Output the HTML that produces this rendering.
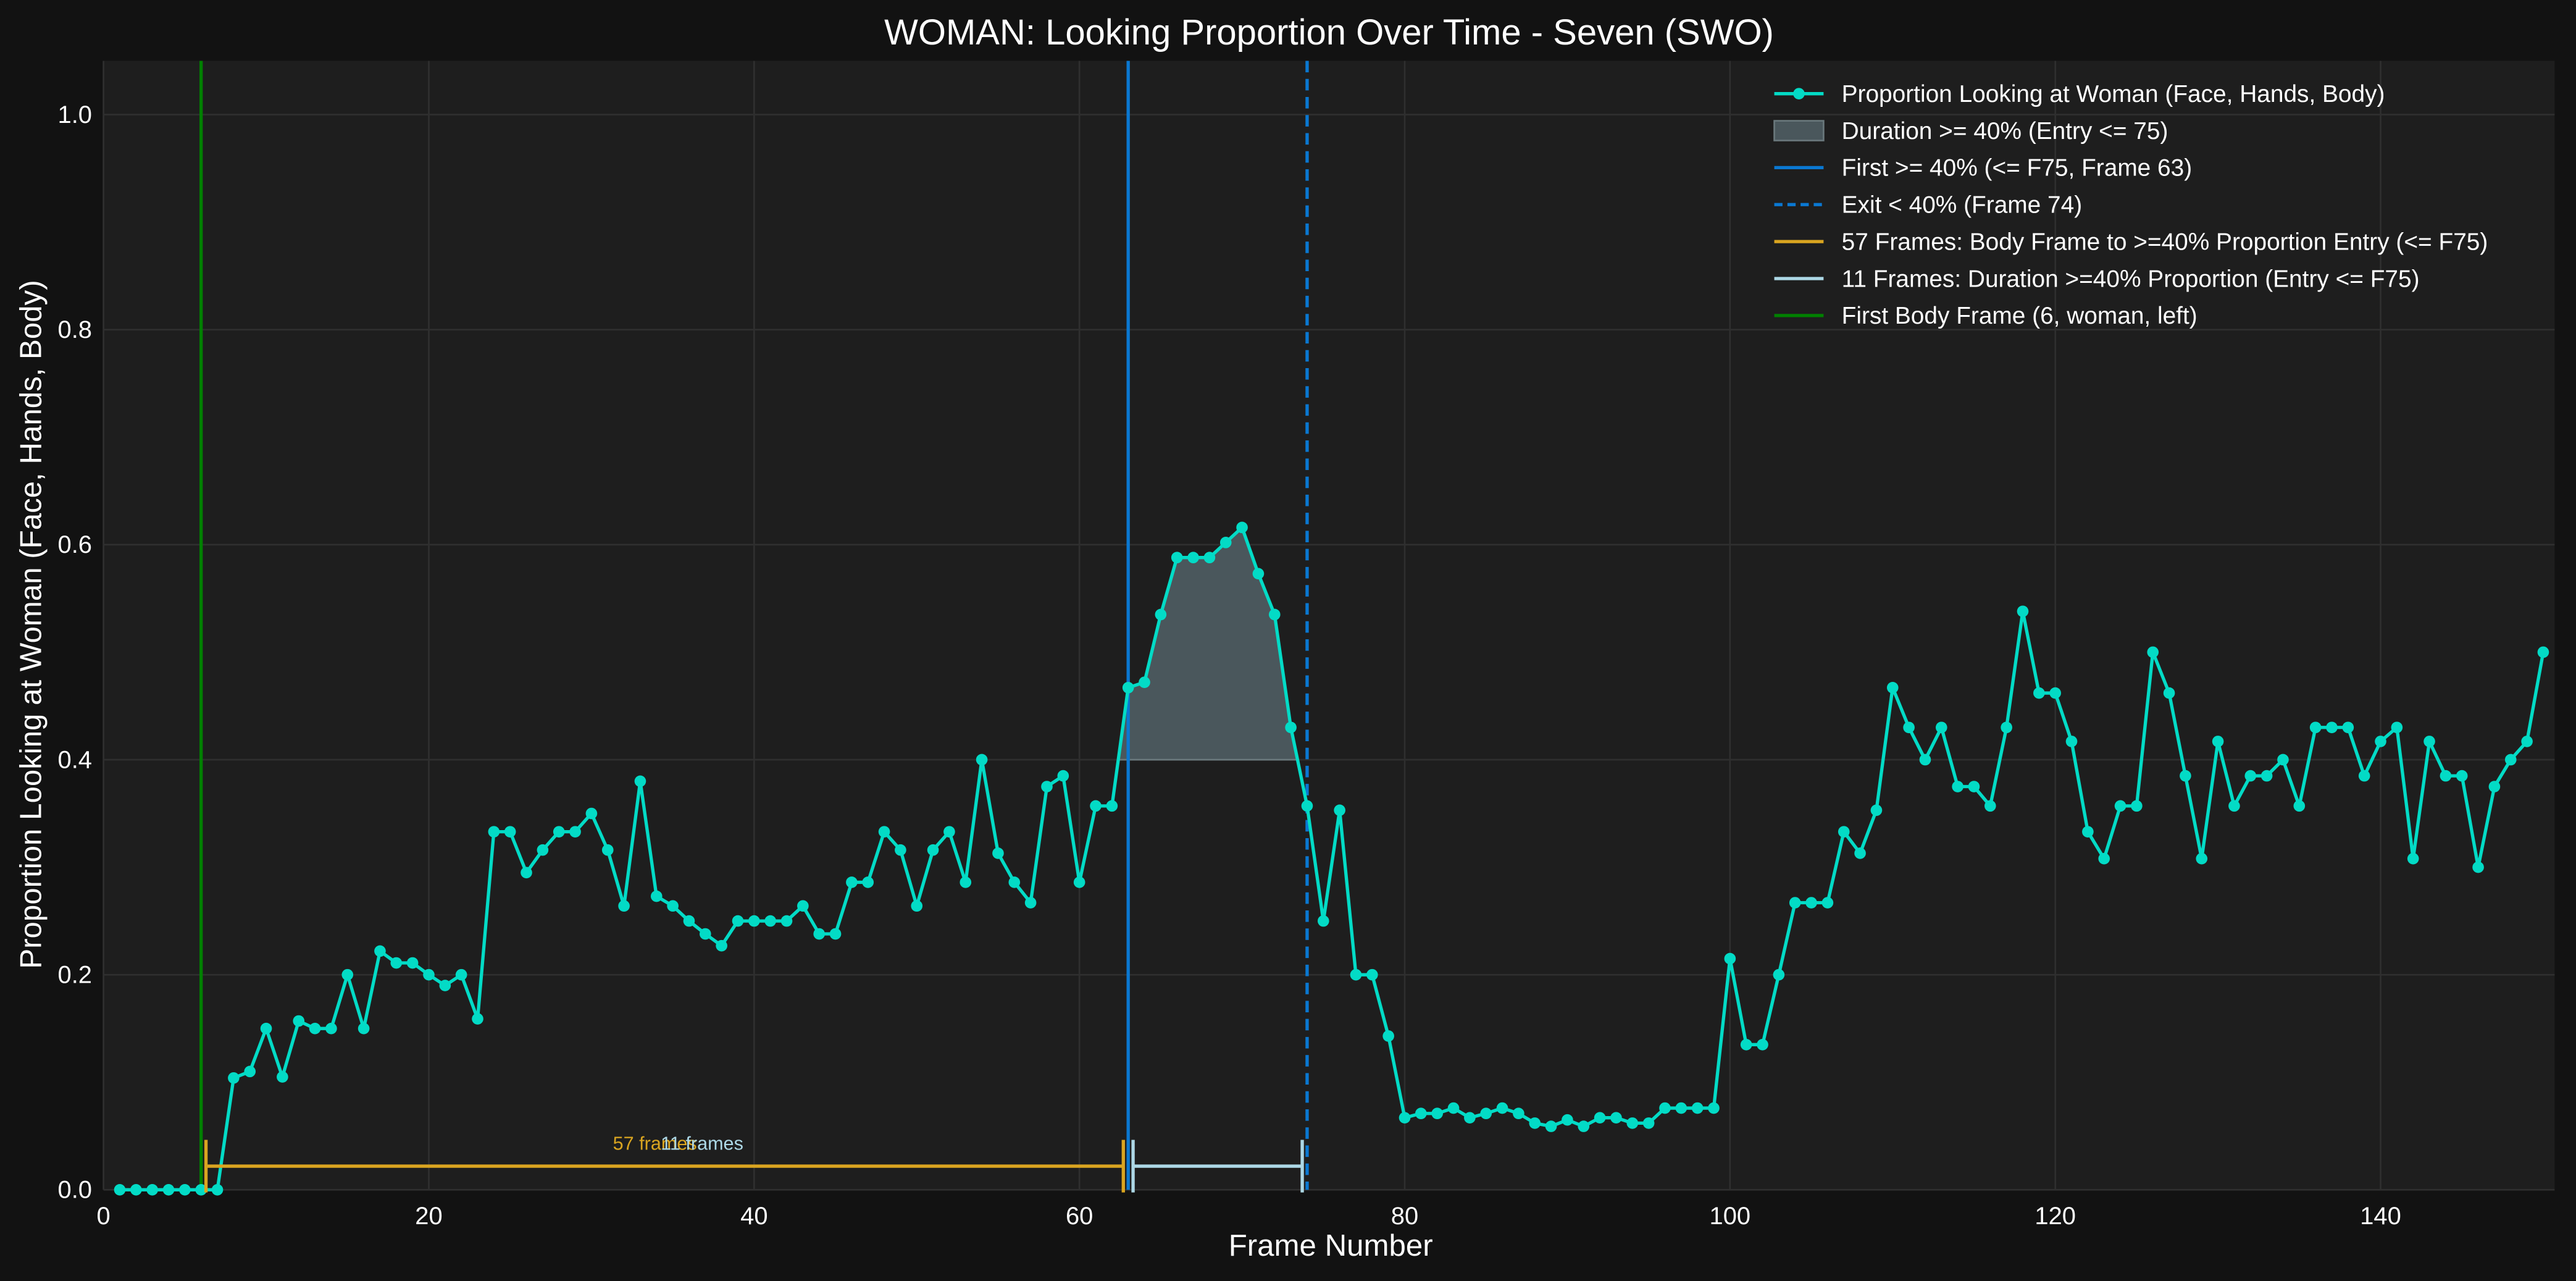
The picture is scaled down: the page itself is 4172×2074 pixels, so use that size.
<!DOCTYPE html>
<html><head><meta charset="utf-8"><style>
html,body{margin:0;padding:0;background:#121212;}
svg{display:block;}
text{font-family:"Liberation Sans",sans-serif;}
</style></head><body>
<svg id="chart" width="4172" height="2074" viewBox="0 0 1568 779.5" xmlns="http://www.w3.org/2000/svg">
<rect x="0" y="0" width="1568" height="779.5" fill="#121212"/>
<rect x="63" y="37" width="1492" height="687" fill="#1e1e1e"/>
<g id="grid"></g>
<g id="fill"></g>
<g id="vlines"></g>
<g id="series"></g>
<g id="annot"></g>
<g id="axes"></g>
<text x="809" y="27" text-anchor="middle" font-size="21.8" fill="#ffffff">WOMAN: Looking Proportion Over Time - Seven (SWO)</text>
<text x="810" y="764" text-anchor="middle" font-size="18.5" fill="#ffffff">Frame Number</text>
<text x="25" y="380" text-anchor="middle" font-size="18.5" fill="#ffffff" transform="rotate(-90 25 380)">Proportion Looking at Woman (Face, Hands, Body)</text>
<g id="legend"></g>
</svg>
<script>
const frames = Array.from({length:150},(_,i)=>i+1);
const values = [0,0,0,0,0,0,0,0.104,0.11,0.15,0.105,0.157,0.15,0.15,0.2,0.15,0.222,0.211,0.211,0.2,
0.19,0.2,0.159,0.333,0.333,0.295,0.316,0.333,0.333,0.35,0.316,0.264,0.38,0.273,0.264,0.25,0.238,0.227,0.25,0.25,
0.25,0.25,0.264,0.238,0.238,0.286,0.286,0.333,0.316,0.264,0.316,0.333,0.286,0.4,0.313,0.286,0.267,0.375,0.385,0.286,
0.357,0.357,0.467,0.472,0.535,0.588,0.588,0.588,0.602,0.616,0.573,0.535,0.43,0.357,0.25,0.353,0.2,0.2,0.143,0.067,
0.071,0.071,0.076,0.067,0.071,0.076,0.071,0.062,0.059,0.065,0.059,0.067,0.067,0.062,0.062,0.076,0.076,0.076,0.076,0.215,
0.135,0.135,0.2,0.267,0.267,0.267,0.333,0.313,0.353,0.467,0.43,0.4,0.43,0.375,0.375,0.357,0.43,0.538,0.462,0.462,
0.417,0.333,0.308,0.357,0.357,0.5,0.462,0.385,0.308,0.417,0.357,0.385,0.385,0.4,0.357,0.43,0.43,0.43,0.385,0.417,
0.43,0.308,0.417,0.385,0.385,0.3,0.375,0.4,0.417,0.5];
const xTicks = [0,20,40,60,80,100,120,140];
const yTicks = [0.0,0.2,0.4,0.6,0.8,1.0];
const threshold = 0.4;
const bodyFrame = 6, entryFrame = 63, exitFrame = 74;
const span1Label = "57 frames", span2Label = "11 frames";
const legendLabels = ["Proportion Looking at Woman (Face, Hands, Body)","Duration >= 40% (Entry <= 75)","First >= 40% (<= F75, Frame 63)","Exit < 40% (Frame 74)","57 Frames: Body Frame to >=40% Proportion Entry (<= F75)","11 Frames: Duration >=40% Proportion (Entry <= F75)","First Body Frame (6, woman, left)"];

const L=63,R=1555,T=37,B=724, XMIN=0,XMAX=150.7,YMIN=0,YMAX=1.05;
const sx=v=>L+(v-XMIN)/(XMAX-XMIN)*(R-L);
const sy=v=>B-(v-YMIN)/(YMAX-YMIN)*(B-T);
const NS="http://www.w3.org/2000/svg";
function mk(tag,attrs,parent){const e=document.createElementNS(NS,tag);for(const k in attrs)e.setAttribute(k,attrs[k]);parent.appendChild(e);return e;}
const grid=document.getElementById('grid'),axes=document.getElementById('axes');
xTicks.forEach(t=>{
 let g=mk('line',{x1:sx(t),x2:sx(t),y1:T,y2:B,stroke:'#2f2f2f','stroke-width':1},grid);
 
 
 let tx=mk('text',{x:sx(t),y:B+21,'text-anchor':'middle','font-size':15,fill:'#ffffff'},axes);
 tx.textContent=t;
 
 
});
yTicks.forEach(t=>{
 let g=mk('line',{x1:L,x2:R,y1:sy(t),y2:sy(t),stroke:'#2f2f2f','stroke-width':1},grid);
 
 
 let tx=mk('text',{x:L-7,y:sy(t)+5,'text-anchor':'end','font-size':15,fill:'#ffffff'},axes);
 tx.textContent=t.toFixed(1);
 
 
});
let pts=[];
for(let i=0;i<frames.length-1;i++){
 const x0=frames[i],x1=frames[i+1],y0=values[i],y1=values[i+1];
 if(x1<entryFrame-1||x0>exitFrame) continue;
 if(y0>=threshold) pts.push([x0,y0]);
 if((y0-threshold)*(y1-threshold)<0){const xc=x0+(threshold-y0)/(y1-y0)*(x1-x0);pts.push([xc,threshold]);}
}
if(pts.length){
 let d='M'+sx(pts[0][0])+','+sy(threshold);
 pts.forEach(p=>d+=' L'+sx(p[0])+','+sy(p[1]));
 d+=' L'+sx(pts[pts.length-1][0])+','+sy(threshold)+'Z';
 let f=mk('path',{d:d,fill:'#4a575c',stroke:'#6a787c','stroke-width':1},document.getElementById('fill'));
 
 
}
const vl=document.getElementById('vlines');
let v1=mk('line',{x1:sx(bodyFrame),x2:sx(bodyFrame),y1:T,y2:B,stroke:'#008000','stroke-width':2},vl);


let v2=mk('line',{x1:sx(entryFrame),x2:sx(entryFrame),y1:T,y2:B,stroke:'#0a78d2','stroke-width':2},vl);


let v3=mk('line',{x1:sx(exitFrame),x2:sx(exitFrame),y1:T,y2:B,stroke:'#0a78d2','stroke-width':2,'stroke-dasharray':'7,4'},vl);


const sg=document.getElementById('series');
let d=frames.map((f,i)=>(i?'L':'M')+sx(f)+','+sy(values[i])).join(' ');
let ln=mk('path',{d:d,fill:'none',stroke:'#03dbc6','stroke-width':2,'stroke-linejoin':'round'},sg);


frames.forEach((f,i)=>{
 let c=mk('circle',{cx:sx(f),cy:sy(values[i]),r:3.5,fill:'#03dbc6'},sg);
 
 
});
const an=document.getElementById('annot');
const ay=sy(0.022);
function span(a,b,col,name){
 let l=mk('line',{x1:sx(a),x2:sx(b),y1:ay,y2:ay,stroke:col,'stroke-width':2},an);
 
 
 [a,b].forEach(x=>{let t=mk('line',{x1:sx(x),x2:sx(x),y1:ay-16,y2:ay+16,stroke:col,'stroke-width':2},an);
 
 });
}
span(bodyFrame+0.3,entryFrame-0.3,'#daa520','span-57-frames');
span(entryFrame+0.3,exitFrame-0.3,'#add8e6','span-11-frames');
let t1=mk('text',{x:sx((bodyFrame+entryFrame)/2-0.6),y:ay-10,'text-anchor':'middle','font-size':11.5,fill:'#daa520'},an);
t1.textContent=span1Label;


let t2=mk('text',{x:sx((bodyFrame+entryFrame)/2+2.3),y:ay-10,'text-anchor':'middle','font-size':11.5,fill:'#add8e6'},an);
t2.textContent=span2Label;


const lg=document.getElementById('legend');
legendLabels.forEach((lab,i)=>{
 const y=57+i*22.5, x0=1080,x1=1110;
 let h;
 if(i===0){h=mk('line',{x1:x0,x2:x1,y1:y,y2:y,stroke:'#03dbc6','stroke-width':2},lg);mk('circle',{cx:(x0+x1)/2,cy:y,r:3.5,fill:'#03dbc6'},lg);}
 else if(i===1){h=mk('rect',{x:x0,y:y-6,width:30,height:12,fill:'#4a575c',stroke:'#6a787c','stroke-width':1},lg);}
 else{const cols=['','','#0a78d2','#0a78d2','#daa520','#add8e6','#008000'];
  h=mk('line',{x1:x0,x2:x1,y1:y,y2:y,stroke:cols[i],'stroke-width':2},lg);
  if(i===3)h.setAttribute('stroke-dasharray','5,3');}
 
 
 let t=mk('text',{x:1121,y:y+5,'font-size':14.6,fill:'#ffffff'},lg);
 t.textContent=lab;
 
 
});
</script>
</body></html>
